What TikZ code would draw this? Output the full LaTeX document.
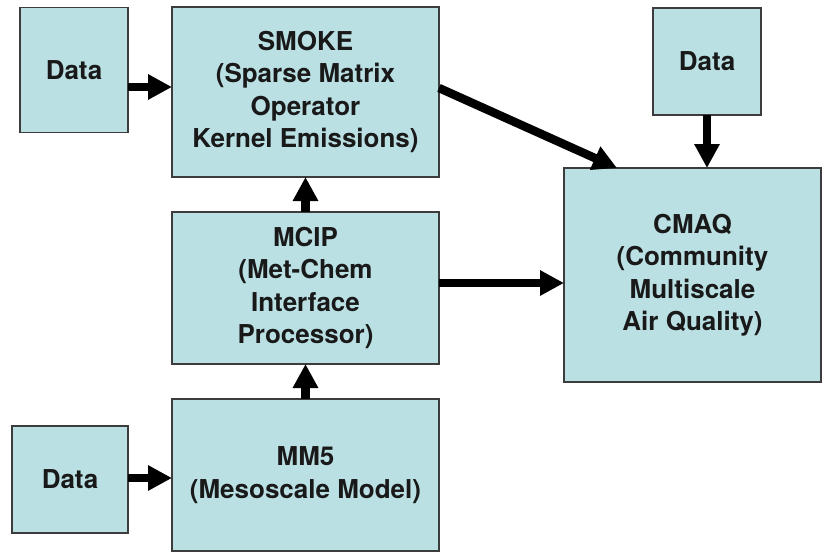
\documentclass[tikz,border=0pt]{standalone}
\usepackage{fontspec}
\setmainfont{TeX Gyre Heros}
\usetikzlibrary{arrows.meta,calc}
\definecolor{boxfill}{RGB}{186,224,228}
\definecolor{boxline}{RGB}{60,60,60}
\tikzset{
  blk/.style={draw=boxline, line width=1.5pt, fill=boxfill, rectangle, inner sep=0pt, outer sep=0pt,
    align=center, font=\fontsize{26}{32.5}\selectfont\bfseries, text=black!90},
  flow/.style={line width=8.5pt, -{Triangle[length=24pt,width=24pt]}, black}
}
\begin{document}
\begin{tikzpicture}[x=1pt,y=-1pt]
\useasboundingbox (0,0) rectangle (822,552);
\node[blk, minimum width=108pt, minimum height=125pt] (d1) at (74,70) {Data};
\node[blk, minimum width=267pt, minimum height=170pt] (smoke) at (305.5,92) {SMOKE\\(Sparse Matrix\\Operator\\Kernel Emissions)};
\node[blk, minimum width=108pt, minimum height=107pt] (d2) at (707,61.5) {Data};
\node[blk, minimum width=257pt, minimum height=214pt] (cmaq) at (692.5,275) {CMAQ\\(Community\\Multiscale\\Air Quality)};
\node[blk, minimum width=267pt, minimum height=152pt] (mcip) at (305.5,288) {MCIP\\(Met-Chem\\Interface\\Processor)};
\node[blk, minimum width=267pt, minimum height=152pt] (mm5) at (305.5,475) {MM5\\(Mesoscale Model)};
\node[blk, minimum width=116pt, minimum height=107pt] (d3) at (70,479.5) {Data};
\coordinate (smokeout) at ($(smoke.east)+(0,-4)$);
\coordinate (cmaqin) at ($(cmaq.north west)+(53,0)$);
\draw[flow] ($(d1.east)+(0,17)$) -- ($(d1.east)+(44,17)$);
\draw[flow] (smokeout) -- (cmaqin);
\draw[flow] (d2.south) -- (d2.south |- cmaq.north);
\draw[flow] ($(mcip.east)+(0,-5)$) -- ($(mcip.east -| cmaq.west)+(0,-5)$);
\draw[flow] (mcip.north) -- (smoke.south);
\draw[flow] (mm5.north) -- (mcip.south);
\draw[flow] ($(d3.east)+(0,-1.5)$) -- ($(d3.east -| mm5.west)+(0,-1.5)$);
\end{tikzpicture}
\end{document}
